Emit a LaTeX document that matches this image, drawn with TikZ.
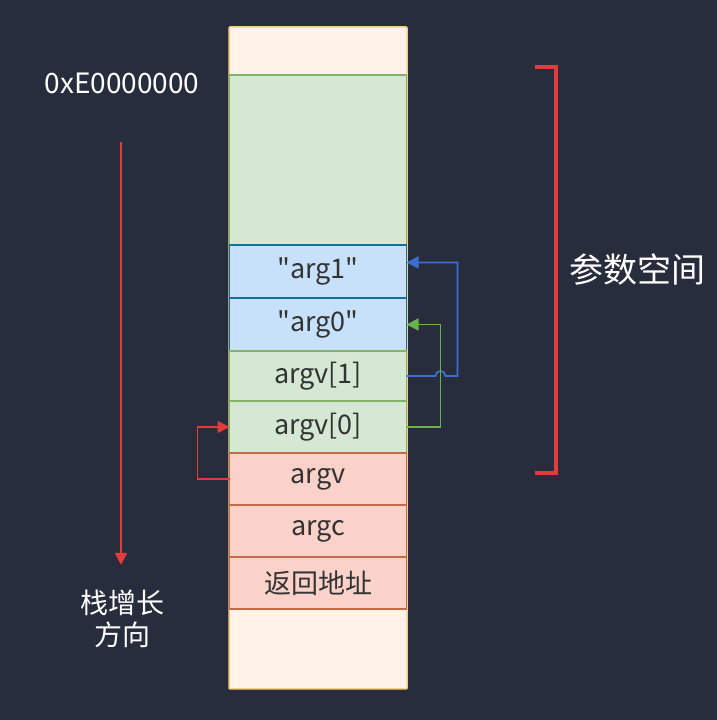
\documentclass[tikz,border=0pt]{standalone}
\usepackage{fontspec}
\newfontfamily\cjk{Noto Sans CJK SC}
\usepackage{tikz}
\usetikzlibrary{arrows.meta,positioning,calc}
\definecolor{bgdark}{RGB}{40,45,62}
\definecolor{cellgreen}{RGB}{213,232,212}
\definecolor{edgegreen}{RGB}{130,179,102}
\definecolor{cellblue}{RGB}{200,225,250}
\definecolor{edgeblue}{RGB}{16,115,158}
\definecolor{cellred}{RGB}{250,210,202}
\definecolor{edgered}{RGB}{196,108,72}
\definecolor{cellorange}{RGB}{255,242,230}
\definecolor{edgeorange}{RGB}{246,205,130}
\definecolor{textdark}{RGB}{51,51,51}
\definecolor{linered}{RGB}{224,60,60}
\definecolor{lineblue}{RGB}{58,111,208}
\definecolor{linegreen}{RGB}{106,176,76}
\tikzset{
  cell/.style={draw, line width=1.2pt, minimum width=177pt, inner sep=0pt,
    outer sep=0pt, text=textdark, font=\cjk\fontsize{27}{30}\selectfont},
  greencell/.style={cell, fill=cellgreen, draw=edgegreen},
  bluecell/.style={cell, fill=cellblue, draw=edgeblue},
  redcell/.style={cell, fill=cellred, draw=edgered},
  ptr/.style={-{Triangle[length=12pt,width=12pt]}, line width=1.8pt},
  whitetext/.style={text=white, font=\cjk\fontsize{28}{32}\selectfont},
}

\begin{document}
\begin{tikzpicture}[x=1pt, y=1pt]
  \useasboundingbox[fill=bgdark] (0,0) rectangle (717,720);

  % Whole stack
  \draw[draw=edgeorange, fill=cellorange, line width=1.5pt, rounded corners=1pt]
    (229,31) rectangle (407,693);

  % Cells, top to bottom
  \node[greencell, minimum height=170pt, anchor=north] (top) at (318,645) {};
  \node[bluecell, minimum height=53pt, below=0pt of top] (arg1) {"arg1"};
  \node[bluecell, minimum height=53pt, below=0pt of arg1] (arg0) {"arg0"};
  \node[greencell, minimum height=50pt, below=0pt of arg0] (argv1) {argv[1]};
  \node[greencell, minimum height=52pt, below=0pt of argv1] (argv0) {argv[0]};
  \node[redcell, minimum height=52pt, below=0pt of argv0] (argv) {argv};
  \node[redcell, minimum height=52pt, below=0pt of argv] (argc) {argc};
  \node[redcell, minimum height=52pt, below=0pt of argc] (ret) {返回地址};

  % Pointers
  \coordinate (hop) at ($(argv1.east)+(29,0)$);
  \draw[ptr, lineblue] (argv1.east) -- (hop) arc (180:0:5) -- ++(12,0)
    |- ($(arg1.east)+(0,9)$);
  \draw[ptr, linegreen] (argv0.east) -- ++(34,0) |- (arg0.east);
  \draw[ptr, linered] (argv.west) -- ++(-32,0) |- (argv0.west);

  % Left side: address and growth direction
  \node[whitetext] (addr) at (122,637) {0xE0000000};
  \node[whitetext, align=center] (grow) at (122,101) {栈增长\\方向};
  \draw[-{Triangle[length=12pt,width=12pt]}, linered, line width=1.8pt]
    (121,578) coordinate (gs) -- (121,155) coordinate (ge);

  % Right side: argument space bracket
  \draw[linered, line width=3.5pt] (535,653) -- (556,653) -- (556,247) -- (535,247);
  \node[whitetext, font=\cjk\fontsize{34}{38}\selectfont] (space) at (637,450) {参数空间};
\end{tikzpicture}
\end{document}
